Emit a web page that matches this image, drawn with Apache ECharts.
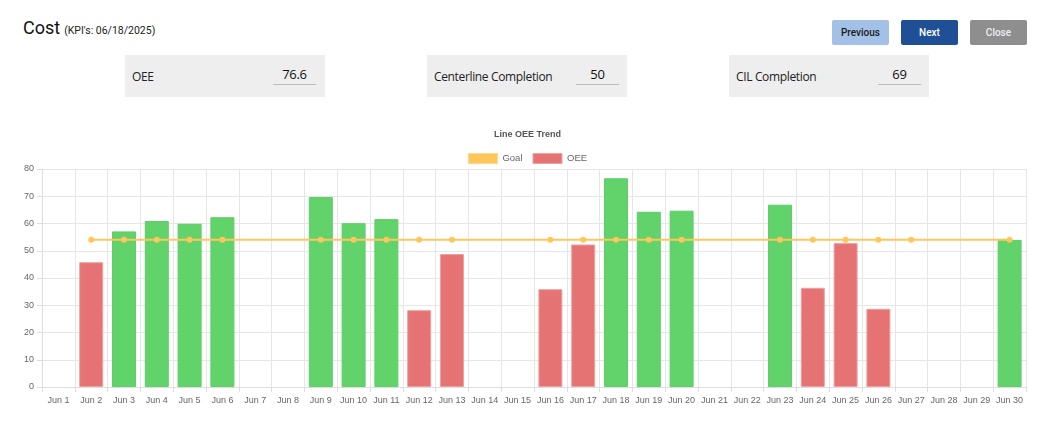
<!DOCTYPE html>
<html><head><meta charset="utf-8">
<script src="https://cdn.jsdelivr.net/npm/echarts@6/dist/echarts.min.js"></script>
<style>
html,body{margin:0;padding:0;background:#fff;width:1055px;height:436px;overflow:hidden;font-family:Roboto,"Open Sans",sans-serif;}
#hdr{position:absolute;left:23px;top:17px;color:#111;}
#hdr .big{font-size:18px;}
#hdr .small{font-size:10.5px;color:#222;}
.btn{position:absolute;top:20px;width:57px;height:25px;border-radius:2px;font-size:10px;font-weight:500;line-height:25px;text-align:center;font-family:Roboto,sans-serif;}
.kpi{position:absolute;top:55px;width:200px;height:42px;background:#eeeeee;font-family:"Open Sans",sans-serif;}
.kpi .lab{position:absolute;left:7px;top:13px;font-size:12px;letter-spacing:-0.35px;color:#222;}
.kpi .val{position:absolute;top:10px;width:43px;text-align:center;font-size:13px;letter-spacing:-0.3px;color:#111;border-bottom:1px solid #bbb;height:19px;}
#chart{position:absolute;left:0;top:120px;width:1055px;height:316px;}
</style></head>
<body>
<div id="hdr"><span class="big">Cost</span> <span class="small">(KPI's: 06/18/2025)</span></div>
<div class="btn" style="left:832px;background:#a3c1e6;color:#1a1a1a;">Previous</div>
<div class="btn" style="left:901px;background:#1f4f94;color:#fff;">Next</div>
<div class="btn" style="left:970px;background:#8e8e8e;color:#eee;">Close</div>
<div id="kpis"></div>
<div id="chart"></div>
<script>
const kpiLabels = ["OEE", "Centerline Completion", "CIL Completion"];
const kpiValues = ["76.6", "50", "69"];
const categories = ["Jun 1","Jun 2","Jun 3","Jun 4","Jun 5","Jun 6","Jun 7","Jun 8","Jun 9","Jun 10","Jun 11","Jun 12","Jun 13","Jun 14","Jun 15","Jun 16","Jun 17","Jun 18","Jun 19","Jun 20","Jun 21","Jun 22","Jun 23","Jun 24","Jun 25","Jun 26","Jun 27","Jun 28","Jun 29","Jun 30"];
const oeeValues = [null,45.8,57.1,60.9,59.9,62.3,null,null,69.7,60.1,61.6,28.2,48.8,null,null,35.9,52.3,76.6,64.3,64.7,null,null,66.9,36.4,52.8,28.7,null,null,null,54];
const goalValues = [null,54,54,54,54,54,null,null,54,54,54,54,54,null,null,54,54,54,54,54,null,null,54,54,54,54,54,null,null,54];

const kpiLeft = [125, 427, 729];
const kpiValLeft = [273, 576, 878];
const kd = document.getElementById('kpis');
kpiLabels.forEach((l,i)=>{
  const b = document.createElement('div'); b.className='kpi'; b.style.left=kpiLeft[i]+'px';
  b.innerHTML = '<div class="lab">'+l+'</div><div class="val" style="left:'+(kpiValLeft[i]-kpiLeft[i])+'px">'+kpiValues[i]+'</div>';
  kd.appendChild(b);
});

const FONT = '"Liberation Sans", Arial, sans-serif';
const GREEN='#62d26a', GREEN_B='#5ccf66', RED='#e57373', RED_B='#f0a0a0', GOAL='#ffc65c';
const chart = echarts.init(document.getElementById('chart'), null, {renderer:'canvas'});
const barData = oeeValues.map((v,i)=>{
  if (v===null) return null;
  const ok = goalValues[i]===null || v >= goalValues[i];
  return {value:v, itemStyle:{color: ok?GREEN:RED, borderColor: ok?GREEN_B:RED_B, borderWidth:1}};
});
chart.setOption({
  animation:false,
  title:{text:'Line OEE Trend', left:'center', top:5, textStyle:{fontSize:9, fontWeight:'bold', color:'#555', fontFamily:FONT}},
  legend:{top:28, left:'center', itemWidth:29, itemHeight:10, itemGap:10, textStyle:{fontSize:9.5, color:'#666', fontFamily:FONT},
    data:[{name:'Goal', icon:'rect', itemStyle:{color:GOAL, borderColor:'#ffd88a', borderWidth:1}}, {name:'OEE', icon:'rect', itemStyle:{color:RED, borderColor:RED_B, borderWidth:1}}]},
  grid:{left:42, right:29, top:49, bottom:49},
  xAxis:{type:'category', data:categories, boundaryGap:true,
    axisLine:{lineStyle:{color:'#ddd'}}, axisTick:{show:true, length:5, lineStyle:{color:'#ddd'}},
    splitLine:{show:true, lineStyle:{color:'#e6e6e6'}},
    axisLabel:{fontSize:9, color:'#666', margin:9, interval:0, fontFamily:FONT}},
  yAxis:{type:'value', min:0, max:80, interval:10,
    axisLine:{show:true, lineStyle:{color:'#ddd'}}, axisTick:{show:true, length:5, lineStyle:{color:'#ddd'}},
    splitLine:{lineStyle:{color:'#e6e6e6'}},
    axisLabel:{fontSize:9, color:'#666', margin:8, fontFamily:FONT}},
  series:[
    {name:'Goal', type:'line', data:goalValues, connectNulls:true, z:5, symbol:'circle', symbolSize:6,
      lineStyle:{color:GOAL, width:2}, itemStyle:{color:GOAL}},
    {name:'OEE', type:'bar', data:barData, barWidth:24, z:2, itemStyle:{color:RED}}
  ]
});
</script>
</body></html>
